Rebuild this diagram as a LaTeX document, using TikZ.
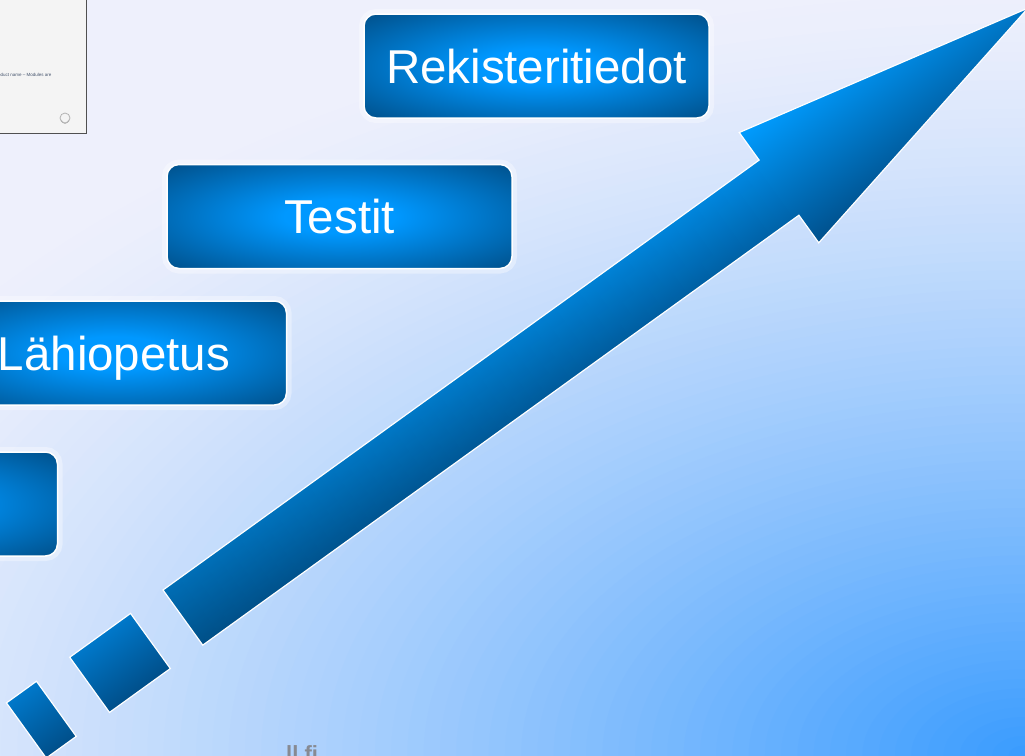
\documentclass[tikz,border=0pt]{standalone}
\usepackage{fontspec}
\setmainfont{Liberation Sans}
\usetikzlibrary{fadings}

\definecolor{bgpale}{RGB}{238,240,252}
\definecolor{boxhi}{RGB}{0,152,255}
\definecolor{boxlo}{RGB}{0,84,145}
\definecolor{arrowhi}{RGB}{0,156,255}
\definecolor{arrowlo}{RGB}{0,80,140}
\definecolor{dashhi}{RGB}{0,120,202}
\definecolor{dashlo}{RGB}{0,79,138}
\definecolor{pagegray}{RGB}{244,244,244}
\definecolor{pageedge}{RGB}{80,80,80}
\definecolor{pagetext}{RGB}{70,85,110}
\definecolor{urlgray}{RGB}{135,138,146}

\pgfdeclareradialshading{boxglow}{\pgfpoint{0bp}{0bp}}{color(0bp)=(boxhi); color(8bp)=(boxhi); color(34bp)=(boxlo); color(50bp)=(boxlo)}
\tikzfading[name=tailfade, left color=transparent!0, right color=transparent!100]

\begin{document}
\begin{tikzpicture}[x=1pt, y=-1pt]

      \tikzset{stage/.style={shade, shading=boxglow, draw=white, line width=1.5pt, rounded corners=12pt,
          minimum width=345pt, minimum height=104pt, inner sep=0pt, text=white,
          font=\fontsize{47.5}{52}\selectfont, text height=34pt, text depth=0pt,
          preaction={draw=white, line width=10pt, draw opacity=0.35}},
        headpiece/.style={top color=arrowhi, bottom color=arrowlo},
        dashpiece/.style={top color=dashhi, bottom color=dashlo, draw=white, line width=1.2pt}}
%% Background
      \useasboundingbox (0,0) rectangle (1025,755);
      \clip (0,0) rectangle (1025,755);
      \fill[bgpale] (0,0) rectangle (1025,755);
      \foreach \i in {1,...,80}{
        \pgfmathsetmacro{\s}{1-(\i-1)/80}
        \pgfmathsetmacro{\t}{((\i-0.5)/80)^1.3}
        \pgfmathtruncatemacro{\rr}{238-180*\t}
        \pgfmathtruncatemacro{\gg}{240-84*\t}
        \pgfmathtruncatemacro{\bb}{252+3*\t}
        \pgfmathsetmacro{\rx}{1300*\s}
        \pgfmathsetmacro{\ry}{760*\s}
        \definecolor{ring}{RGB}{\rr,\gg,\bb}
        \fill[ring] (1025,755) ellipse [x radius=\rx pt, y radius=\ry pt];
      }
%% Slide thumbnail
      \draw[fill=pagegray, draw=pageedge, line width=1pt] (-10,-10) rectangle (86,133);
      \node[anchor=west, inner sep=0pt, text=pagetext, font=\fontsize{4.5}{5}\selectfont] (thumbtext) at (-2,75) {oduct name -- Modules are};
      \draw[gray!60, line width=0.8pt] (65,118) circle [radius=5];
      \draw[gray!60, line width=0.6pt] (61.5,120) arc [start angle=180, end angle=0, radius=3.5];
%% Stages
      \node[stage] (rek) at (536.5,66) {Rekisteritiedot};
      \node[stage] (testit) at (339.5,216.5) {Testit};
      \node[stage] (lahi) at (114,353) {Lähiopetus};
      \node[stage] (base) at (-115,504) {};
%% Arrow
      \begin{scope}[transform canvas={shift={(163,590)}, rotate=35.8}]
        \shade[headpiece] (0,0) -- (735,0) -- (735,-34) -- (1042,34) -- (735,102) -- (735,68) -- (0,68) -- cycle;
        \fill[black, fill opacity=0.2, path fading=tailfade] (0,0) rectangle (735,68);
        \draw[white, line width=1.2pt] (0,0) -- (735,0) -- (735,-34) -- (1042,34) -- (735,102) -- (735,68) -- (0,68) -- cycle;
        \shade[dashpiece] (-115,0) rectangle (-40,68);
        \shade[dashpiece] (-193,0) rectangle (-156,68);
      \end{scope}
%% Footer
      \node[anchor=north west, inner sep=0pt, text=urlgray, font=\bfseries\fontsize{22}{24}\selectfont] (url) at (286,745) {ll.fi};

\end{tikzpicture}
\end{document}
